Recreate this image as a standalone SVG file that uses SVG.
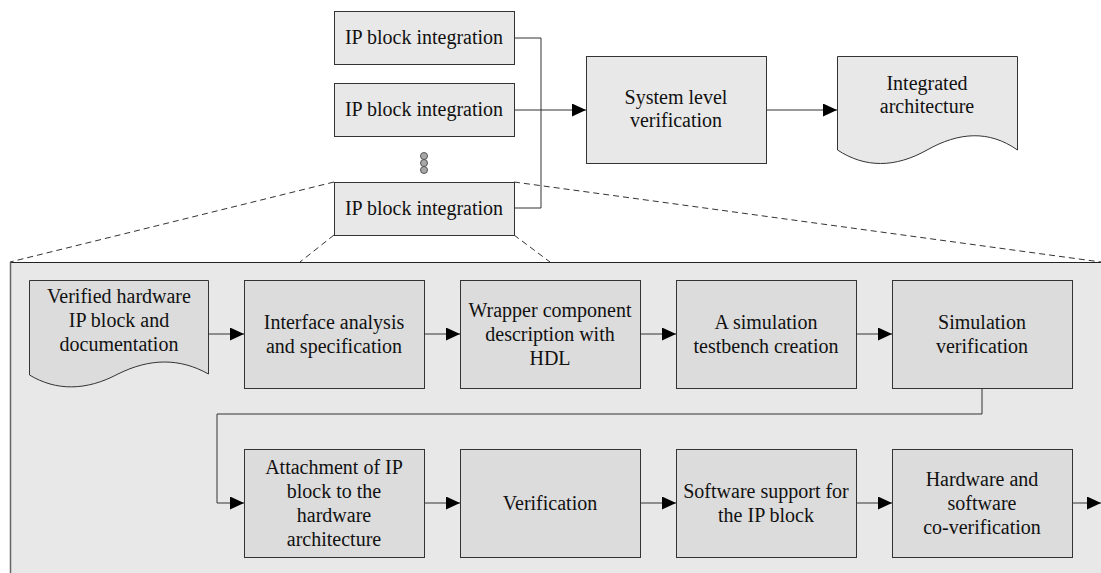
<svg xmlns="http://www.w3.org/2000/svg" width="1101" height="573" viewBox="0 0 1101 573">
  <style>
    .box { fill: #e8e8e8; stroke: #333; stroke-width: 1; }
    .step { fill: #dcdcdc; stroke: #333; stroke-width: 1; }
    .panel { fill: #e8e8e8; stroke: none; }
    .edge { fill: none; stroke: #333; stroke-width: 1; }
    .arrow { fill: none; stroke: #333; stroke-width: 1; marker-end: url(#head); }
    .zoomline { fill: none; stroke: #333; stroke-width: 1; stroke-dasharray: 6 4; }
    .dot { fill: #a8a8a8; stroke: #555; stroke-width: 1; }
    .lbl { font-family: "Liberation Serif", Tinos, "Noto Serif", "DejaVu Serif", FreeSerif, "Nimbus Roman", "Nimbus Roman No9 L", Times, "Times New Roman", Georgia, serif; font-size: 20px; fill: #111; text-anchor: middle; }
  </style>
  <defs>
    <marker id="head" markerUnits="userSpaceOnUse" markerWidth="14" markerHeight="13" refX="14" refY="6.5" orient="auto">
      <path d="M0,0 L14,6.5 L0,13 Z" fill="#000"/>
    </marker>
  </defs>

  <rect width="1101" height="573" fill="#fff"/>

  <!-- expanded view panel -->
  <g id="detail-panel">
    <rect class="panel" x="10" y="262" width="1091" height="311"/>
    <line x1="10" y1="262.5" x2="1101" y2="262.5" stroke="#222" stroke-width="1"/>
    <line x1="10.5" y1="262" x2="10.5" y2="573" stroke="#666" stroke-width="1.5"/>
  </g>

  <!-- zoom guide lines -->
  <g id="zoom-guides">
    <line class="zoomline" x1="334" y1="182" x2="10" y2="262"/>
    <line class="zoomline" x1="514" y1="182" x2="1101" y2="262"/>
    <line class="zoomline" x1="334" y1="235" x2="300" y2="262"/>
    <line class="zoomline" x1="514" y1="235" x2="550" y2="262"/>
  </g>

  <!-- connectors -->
  <g id="connectors">
    <polyline class="edge" points="514,38 541,38 541,208 514,208"/>
    <line class="arrow" x1="514" y1="110" x2="586" y2="110"/>
    <line class="arrow" x1="766" y1="110" x2="837" y2="110"/>

    <line class="arrow" x1="208" y1="334" x2="244" y2="334"/>
    <line class="arrow" x1="424" y1="334" x2="460" y2="334"/>
    <line class="arrow" x1="640" y1="334" x2="676" y2="334"/>
    <line class="arrow" x1="856" y1="334" x2="892" y2="334"/>
    <polyline class="arrow" points="982,388 982,414 217,414 217,503 244,503"/>
    <line class="arrow" x1="424" y1="503" x2="460" y2="503"/>
    <line class="arrow" x1="640" y1="503" x2="676" y2="503"/>
    <line class="arrow" x1="856" y1="503" x2="892" y2="503"/>
    <line class="arrow" x1="1072" y1="503" x2="1101" y2="503"/>
  </g>

  <!-- top level -->
  <g id="ip1">
    <rect class="box" x="334.5" y="11.5" width="180" height="53"/>
    <text class="lbl" x="424" y="44">IP block integration</text>
  </g>
  <g id="ip2">
    <rect class="box" x="334.5" y="83.5" width="180" height="53"/>
    <text class="lbl" x="424" y="116">IP block integration</text>
  </g>
  <g id="ellipsis">
    <circle class="dot" cx="424" cy="156" r="3.5"/>
    <circle class="dot" cx="424" cy="163" r="3.5"/>
    <circle class="dot" cx="424" cy="170" r="3.5"/>
  </g>
  <g id="ip3">
    <rect class="box" x="334.5" y="182.5" width="180" height="53"/>
    <text class="lbl" x="424" y="215">IP block integration</text>
  </g>
  <g id="system-verification">
    <rect class="box" x="586.5" y="56.5" width="180" height="107"/>
    <text class="lbl" x="676" y="104">System level</text>
    <text class="lbl" x="676" y="127">verification</text>
  </g>
  <g id="integrated-architecture">
    <path class="box" d="M837.5,56.5 H1017.5 V150 C989,130 959,132 927,150 C895,168 865,168 837.5,150 Z"/>
    <text class="lbl" x="927" y="90">Integrated</text>
    <text class="lbl" x="927" y="113">architecture</text>
  </g>

  <!-- detail row 1 -->
  <g id="verified-ip">
    <path class="step" d="M29.5,280.5 H208.5 V374 C180,358 150,358 118,374 C86,391 56,391 29.5,375 Z"/>
    <text class="lbl" x="119" y="303">Verified hardware</text>
    <text class="lbl" x="119" y="327">IP block and</text>
    <text class="lbl" x="119" y="351">documentation</text>
  </g>
  <g id="interface-analysis">
    <rect class="step" x="244.5" y="280.5" width="180" height="108"/>
    <text class="lbl" x="334" y="328.5">Interface analysis</text>
    <text class="lbl" x="334" y="352.5">and specification</text>
  </g>
  <g id="wrapper-description">
    <rect class="step" x="460.5" y="280.5" width="180" height="108"/>
    <text class="lbl" x="550" y="316.5">Wrapper component</text>
    <text class="lbl" x="550" y="340.5">description with</text>
    <text class="lbl" x="550" y="364.5">HDL</text>
  </g>
  <g id="testbench-creation">
    <rect class="step" x="676.5" y="280.5" width="180" height="108"/>
    <text class="lbl" x="766" y="328.5">A simulation</text>
    <text class="lbl" x="766" y="352.5">testbench creation</text>
  </g>
  <g id="simulation-verification">
    <rect class="step" x="892.5" y="280.5" width="180" height="108"/>
    <text class="lbl" x="982" y="328.5">Simulation</text>
    <text class="lbl" x="982" y="352.5">verification</text>
  </g>

  <!-- detail row 2 -->
  <g id="attachment">
    <rect class="step" x="244.5" y="449.5" width="180" height="108"/>
    <text class="lbl" x="334" y="473.5">Attachment of IP</text>
    <text class="lbl" x="334" y="497.5">block to the</text>
    <text class="lbl" x="334" y="521.5">hardware</text>
    <text class="lbl" x="334" y="545.5">architecture</text>
  </g>
  <g id="verification">
    <rect class="step" x="460.5" y="449.5" width="180" height="108"/>
    <text class="lbl" x="550" y="509.5">Verification</text>
  </g>
  <g id="software-support">
    <rect class="step" x="676.5" y="449.5" width="180" height="108"/>
    <text class="lbl" x="766" y="497.5">Software support for</text>
    <text class="lbl" x="766" y="521.5">the IP block</text>
  </g>
  <g id="co-verification">
    <rect class="step" x="892.5" y="449.5" width="180" height="108"/>
    <text class="lbl" x="982" y="485.5">Hardware and</text>
    <text class="lbl" x="982" y="509.5">software</text>
    <text class="lbl" x="982" y="533.5">co-verification</text>
  </g>
</svg>
